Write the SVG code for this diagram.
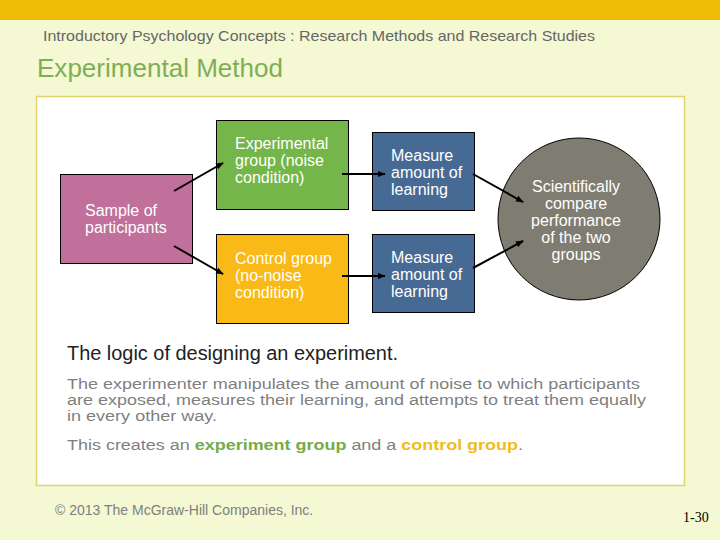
<svg xmlns="http://www.w3.org/2000/svg" width="720" height="540" viewBox="0 0 720 540">
<defs>
<marker id="ah" viewBox="0 0 10 10" refX="9" refY="5" markerWidth="4" markerHeight="4" orient="auto" markerUnits="strokeWidth">
<path d="M0,1 L10,5 L0,9 z" fill="#000"/>
</marker>
<style>
text{font-family:"Liberation Sans",Arial,sans-serif}
.lbl{fill:#fff;font-size:16px}
.box{stroke:#000;stroke-width:1}
.con{stroke:#000;stroke-width:2;fill:none;marker-end:url(#ah)}
.body{fill:#7f7f7f;font-size:15.5px}
</style>
</defs>
<rect x="0" y="0" width="720" height="540" fill="#f4f9d3"/>
<rect x="0" y="0" width="720" height="20" fill="#f0bc08"/>
<text x="43" y="41" font-size="15" fill="#666" textLength="552" lengthAdjust="spacingAndGlyphs">Introductory Psychology Concepts : Research Methods and Research Studies</text>
<text x="37" y="77" font-size="25" fill="#7fae57" textLength="246" lengthAdjust="spacingAndGlyphs">Experimental Method</text>
<rect x="36.5" y="96.5" width="648" height="389" fill="#fff" stroke="#e3d370" stroke-width="1.5"/>

<g id="sample">
<rect class="box" x="60.5" y="174.5" width="132" height="89" fill="#c0709a"/>
<text class="lbl" x="85" y="216">Sample of</text>
<text class="lbl" x="85" y="233">participants</text>
</g>
<g id="experimental">
<rect class="box" x="216.5" y="120.5" width="132" height="89" fill="#74b64a"/>
<text class="lbl" x="235" y="149">Experimental</text>
<text class="lbl" x="235" y="166">group (noise</text>
<text class="lbl" x="235" y="183">condition)</text>
</g>
<g id="control">
<rect class="box" x="216.5" y="234.5" width="132" height="89" fill="#f9b916"/>
<text class="lbl" x="235" y="264">Control group</text>
<text class="lbl" x="235" y="281">(no-noise</text>
<text class="lbl" x="235" y="298">condition)</text>
</g>
<g id="measure1">
<rect class="box" x="372.5" y="132.5" width="102" height="78" fill="#476a94"/>
<text class="lbl" x="391" y="161">Measure</text>
<text class="lbl" x="391" y="178">amount of</text>
<text class="lbl" x="391" y="195">learning</text>
</g>
<g id="measure2">
<rect class="box" x="372.5" y="234.5" width="102" height="78" fill="#476a94"/>
<text class="lbl" x="391" y="263">Measure</text>
<text class="lbl" x="391" y="280">amount of</text>
<text class="lbl" x="391" y="297">learning</text>
</g>
<g id="compare">
<circle cx="579" cy="219" r="81" fill="#7f7d72" stroke="#000" stroke-width="1"/>
<g text-anchor="middle">
<text class="lbl" x="576" y="192">Scientifically</text>
<text class="lbl" x="576" y="209">compare</text>
<text class="lbl" x="576" y="226">performance</text>
<text class="lbl" x="576" y="243">of the two</text>
<text class="lbl" x="576" y="260">groups</text>
</g>
</g>

<g id="connectors">
<line class="con" x1="174" y1="191" x2="223" y2="163"/>
<line class="con" x1="174" y1="246" x2="223" y2="274"/>
<line class="con" x1="342" y1="174" x2="385" y2="174"/>
<line class="con" x1="342" y1="276" x2="385" y2="276"/>
<line class="con" x1="473" y1="174" x2="523" y2="202"/>
<line class="con" x1="473" y1="268" x2="523" y2="241"/>
</g>

<text x="67" y="360" font-size="20" fill="#222" textLength="331" lengthAdjust="spacingAndGlyphs">The logic of designing an experiment.</text>
<text class="body" x="67" y="389" textLength="573" lengthAdjust="spacingAndGlyphs">The experimenter manipulates the amount of noise to which participants</text>
<text class="body" x="67" y="405" textLength="579" lengthAdjust="spacingAndGlyphs">are exposed, measures their learning, and attempts to treat them equally</text>
<text class="body" x="67" y="421" textLength="150" lengthAdjust="spacingAndGlyphs">in every other way.</text>
<text class="body" x="67" y="450" textLength="456" lengthAdjust="spacingAndGlyphs">This creates an <tspan fill="#74ac48" font-weight="bold">experiment group</tspan> and a <tspan fill="#f0bc1c" font-weight="bold">control group</tspan>.</text>

<text x="55" y="515" font-size="14" fill="#7f7f7f">© 2013 The McGraw-Hill Companies, Inc.</text>
<text x="683" y="522" font-size="14" fill="#000" style="font-family:'Liberation Serif',serif">1-30</text>
</svg>
